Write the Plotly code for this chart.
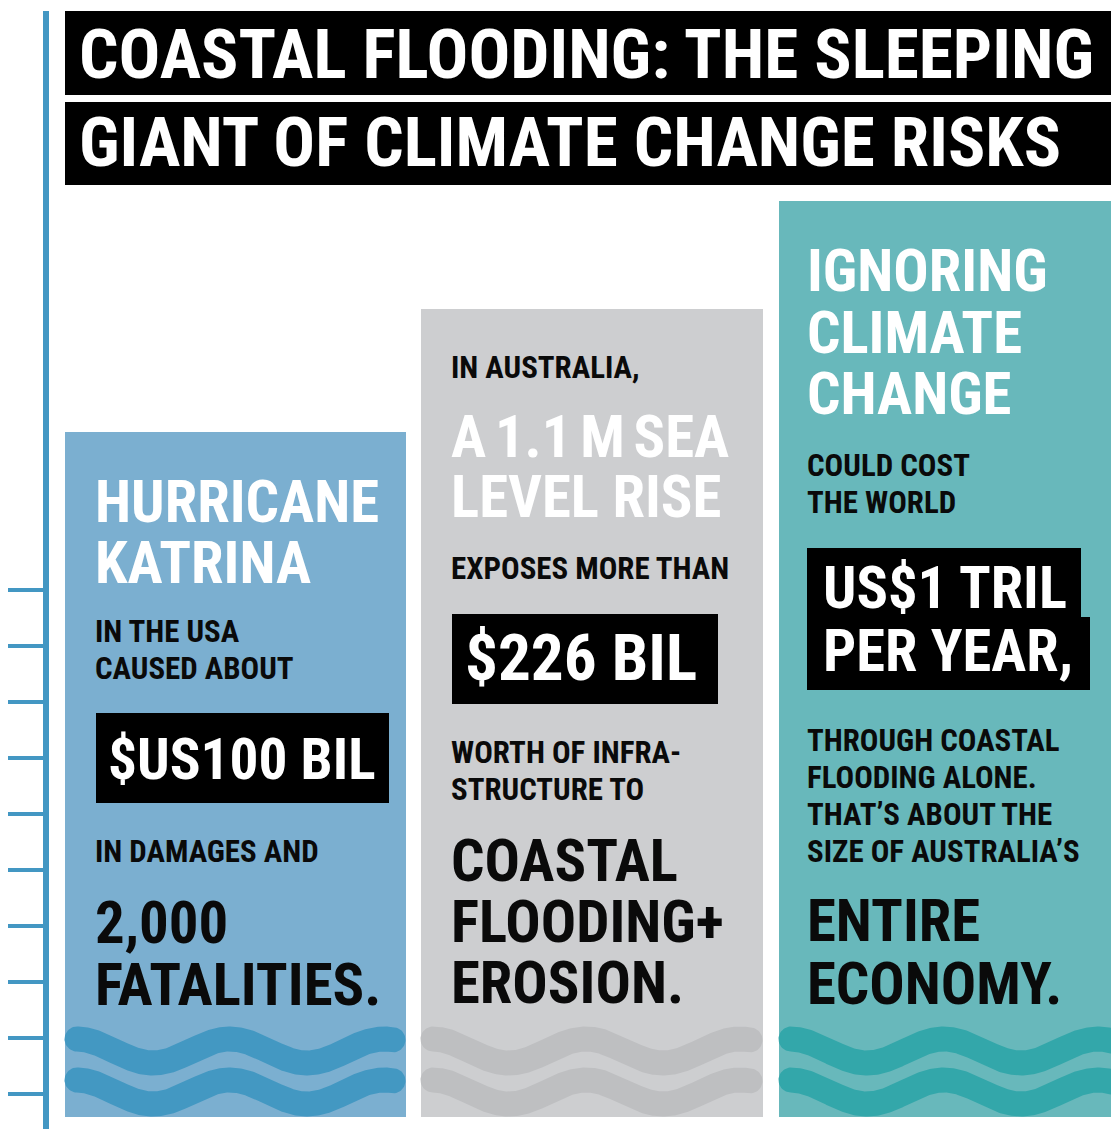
import numpy as np
import plotly.graph_objects as go

W, H = 1111, 1129
FONT = "Roboto Condensed, Liberation Sans Narrow, DejaVu Sans Condensed, Roboto, sans-serif"
NSP = '<span style="font-size:38px"> </span>'  # narrow space

# ---- data ----
title_lines = ["COASTAL FLOODING: THE SLEEPING", "GIANT OF CLIMATE CHANGE RISKS"]
panel_names = ["Hurricane Katrina", "Australia sea level rise", "Ignoring climate change"]
panel_heights = [685, 808, 916]          # visual bar heights (px)
panel_colors = ["#7bafd0", "#cdced0", "#68b8bb"]
wave_colors = ["#4398c2", "#bebfc1", "#33a7aa"]

p1_lines = [("HURRICANE", "w", "L"), ("KATRINA", "w", "L"), ("IN THE USA", "k", "S"),
            ("CAUSED ABOUT", "k", "S"), ("$US100 BIL", "w", "B"), ("IN DAMAGES AND", "k", "S"),
            ("2,000", "k", "L"), ("FATALITIES.", "k", "L")]
p2_lines = [("IN AUSTRALIA,", "k", "S"), ("A 1.1 M SEA".replace(" ", NSP), "w", "L"), ("LEVEL RISE", "w", "L"),
            ("EXPOSES MORE THAN", "k", "S"), ("$226 BIL", "w", "X"), ("WORTH OF INFRA-", "k", "S"),
            ("STRUCTURE TO", "k", "S"), ("COASTAL", "k", "L"), ("FLOODING+", "k", "L"),
            ("EROSION.", "k", "L")]
p3_lines = [("IGNORING", "w", "L"), ("CLIMATE", "w", "L"), ("CHANGE", "w", "L"),
            ("COULD COST", "k", "S"), ("THE WORLD", "k", "S"), ("US$1 TRIL", "w", "T"),
            ("PER YEAR,", "w", "T"), ("THROUGH COASTAL", "k", "S"), ("FLOODING ALONE.", "k", "S"),
            ("THAT\u2019S ABOUT THE", "k", "S"), ("SIZE OF AUSTRALIA\u2019S", "k", "S"),
            ("ENTIRE", "k", "L"), ("ECONOMY.", "k", "L")]

# ---- layout (pixel geometry) ----
panel_left = [65, 421, 779]
panel_right = [406, 763, 1111]
panel_bottom = 1117
text_x = [94, 450, 806]
p1_y = [501, 562, 631, 668, 759, 851, 922, 984]
p2_y = [367, 436, 496, 568, 658, 752, 789, 860, 921, 982]
p3_y = [270, 332, 393, 465, 502, 588, 651, 740, 777, 814, 851, 920, 983]
box_text_dx = [13, 14, 16]
base_L = 44 / 0.711
size = {"L": base_L * 0.95, "S": 23.5 / 0.711 * 0.935, "B": 45 / 0.711 * 0.905,
        "X": 45 / 0.711 * 1.03, "T": 45 / 0.711 * 0.925}
title_size = 52 / 0.711 * 0.948

fig = go.Figure()

# panels as bars
for i in range(3):
    fig.add_trace(go.Bar(
        x=[(panel_left[i] + panel_right[i]) / 2], y=[-panel_heights[i]], base=[panel_bottom],
        width=[panel_right[i] - panel_left[i]], marker=dict(color=panel_colors[i], line=dict(width=0)),
        name=panel_names[i], hoverinfo="skip", showlegend=False))

# waves (decorative, filled bands with round ends)
def wave_band(x0, x1, xc, yc, amp=12.0, period=154.0, r=12.5):
    xs = np.linspace(x0, x1, 300)
    ys = yc - amp * np.cos(2 * np.pi * (xs - xc) / period)
    dy = amp * 2 * np.pi / period * np.sin(2 * np.pi * (xs - xc) / period)
    norm = np.sqrt(1 + dy ** 2)
    tx, ty = 1 / norm, dy / norm
    nx, ny = -ty, tx
    ux, uy = xs + r * nx, ys + r * ny
    lx, ly = xs - r * nx, ys - r * ny
    t = np.linspace(0, 1, 30)
    th1 = np.arctan2(ty[-1], tx[-1])
    ph = th1 + np.pi / 2 - t * np.pi
    rcx, rcy = xs[-1] + r * np.cos(ph), ys[-1] + r * np.sin(ph)
    th0 = np.arctan2(ty[0], tx[0])
    ph0 = th0 - np.pi / 2 - t * np.pi
    lcx, lcy = xs[0] + r * np.cos(ph0), ys[0] + r * np.sin(ph0)
    px = np.concatenate([ux, rcx, lx[::-1], lcx])
    py = np.concatenate([uy, rcy, ly[::-1], lcy])
    return px, py

for i in range(3):
    xa = panel_left[i] + 12
    xb = panel_right[i] - 13 if i < 2 else W + 30
    for off in (0, 41):
        px, py = wave_band(xa, xb, panel_left[i] + 165, 1051 + off)
        fig.add_trace(go.Scatter(x=px, y=py, mode="lines", fill="toself", fillcolor=wave_colors[i],
                                 line=dict(width=0, color=wave_colors[i]), hoverinfo="skip", showlegend=False))

shapes = []
# ruler
shapes.append(dict(type="line", x0=46, x1=46, y0=11, y1=H, line=dict(color="#4397c3", width=6)))
for k in range(10):
    yy = 590 + 56 * k
    shapes.append(dict(type="line", x0=8, x1=46, y0=yy, y1=yy, line=dict(color="#4397c3", width=4)))
# title boxes
shapes.append(dict(type="rect", x0=65, x1=1111, y0=11, y1=95, fillcolor="black", line=dict(width=0)))
shapes.append(dict(type="rect", x0=65, x1=1111, y0=102, y1=185, fillcolor="black", line=dict(width=0)))
# highlight boxes
for (x0, x1, y0, y1) in [(96, 389, 713, 803), (452, 718, 614, 704), (807, 1081, 548, 619), (807, 1090, 617, 690)]:
    shapes.append(dict(type="rect", x0=x0, x1=x1, y0=y0, y1=y1, fillcolor="black", line=dict(width=0), layer="above"))

ann = []
def txt(x, y, s, color, fs):
    ann.append(dict(x=x, y=y, text=s, showarrow=False, xanchor="left", yanchor="middle",
                    xref="x", yref="y", borderpad=0,
                    font=dict(family=FONT, size=fs, color=color, weight="bold")))

txt(78, 54, title_lines[0], "white", title_size)
txt(78, 142, title_lines[1], "white", title_size)

for i, (lines, ys) in enumerate([(p1_lines, p1_y), (p2_lines, p2_y), (p3_lines, p3_y)]):
    for (s, c, kind), yy in zip(lines, ys):
        x = text_x[i] + (box_text_dx[i] if kind in "BXT" else 0)
        txt(x, yy, s, "white" if c == "w" else "#0a0a0a", size[kind])

fig.update_layout(
    width=W, height=H, margin=dict(l=0, r=0, t=0, b=0),
    paper_bgcolor="white", plot_bgcolor="white",
    xaxis=dict(range=[0, W], visible=False, fixedrange=True),
    yaxis=dict(range=[H, 0], visible=False, fixedrange=True),
    shapes=shapes, annotations=ann, bargap=0, barmode="overlay",
)
fig.write_html("out.html", config={"displayModeBar": False},
               post_script="document.body.style.margin='0';document.body.style.overflow='hidden';")
